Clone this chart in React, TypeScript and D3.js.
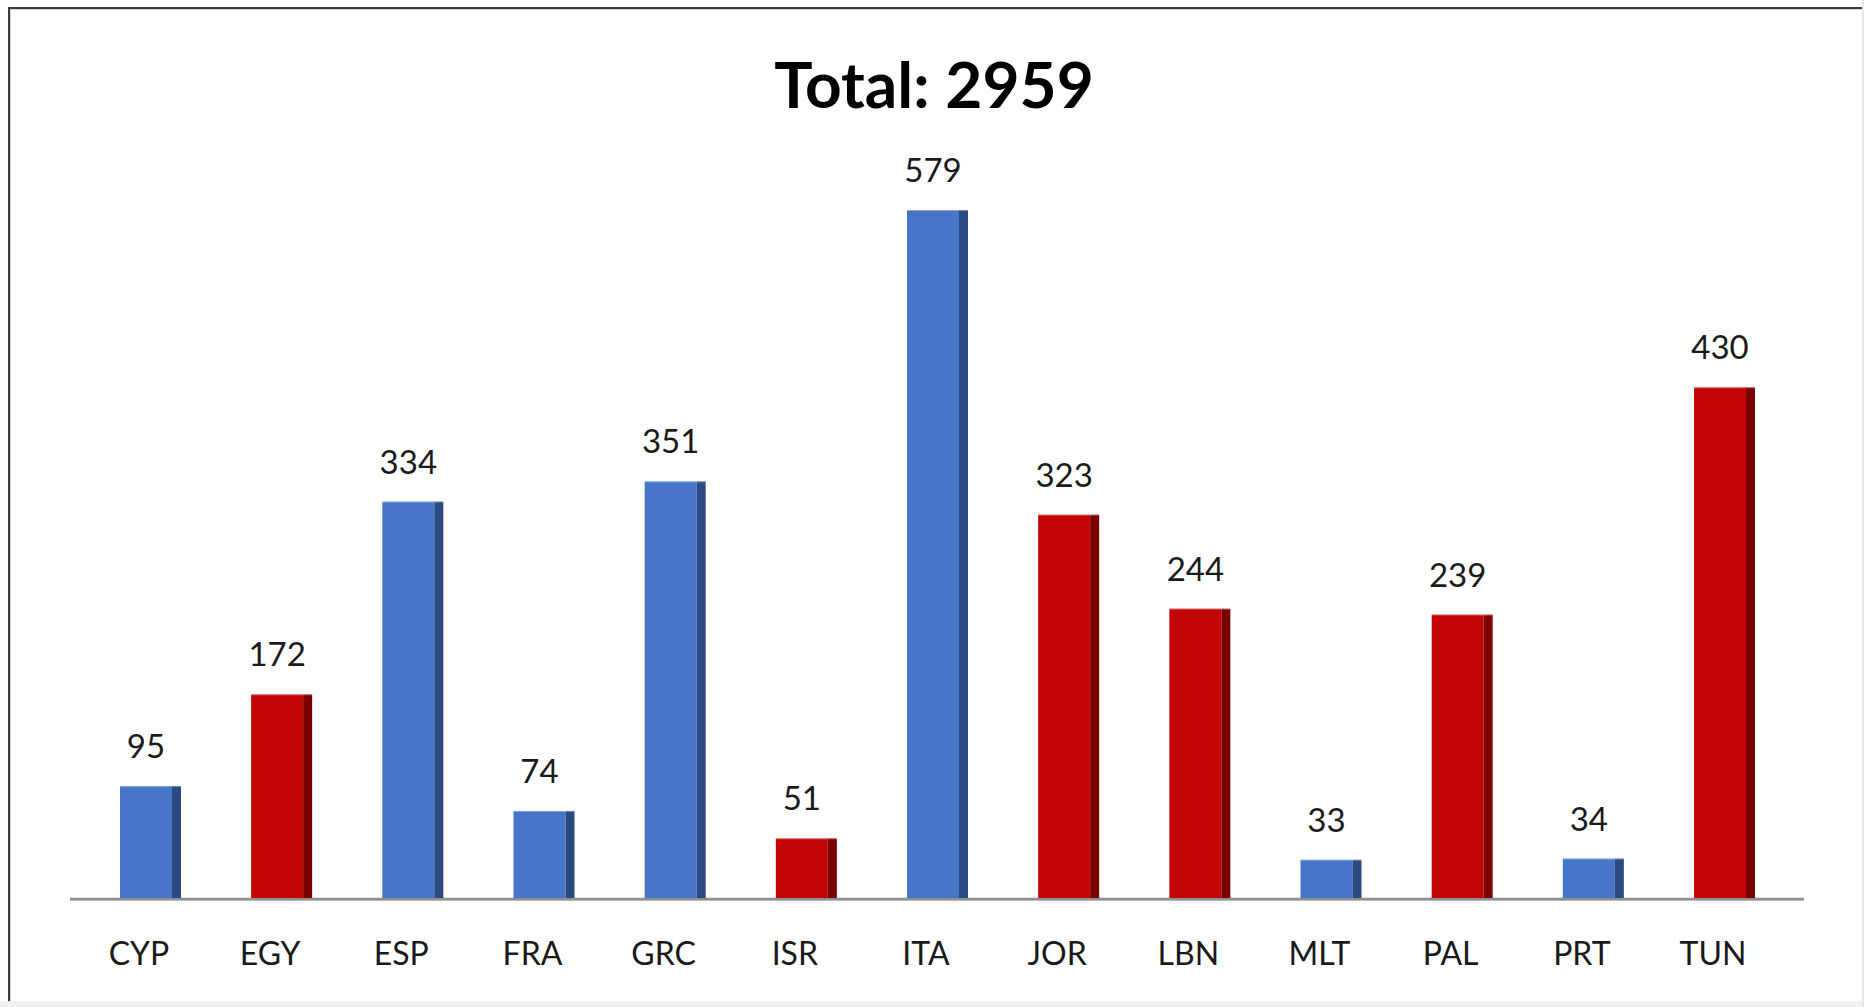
import React, { useEffect, useRef } from "react";
import * as d3 from "d3";

const countries = ["CYP", "EGY", "ESP", "FRA", "GRC", "ISR", "ITA", "JOR", "LBN", "MLT", "PAL", "PRT", "TUN"];
const counts = [95, 172, 334, 74, 351, 51, 579, 323, 244, 33, 239, 34, 430];
const groups = ["eu", "non", "eu", "eu", "eu", "non", "eu", "non", "non", "eu", "non", "eu", "non"];
const titleText = "Total: 2959";

const App = () => {
  const chartRef = useRef(null);

  useEffect(() => {
    const width = 1864;
    const height = 1007;
    const axisY = 899;

    d3.select(chartRef.current).select("svg").remove();

    const svg = d3
      .select(chartRef.current)
      .append("svg")
      .attr("width", width)
      .attr("height", height)
      .style("position", "absolute")
      .style("left", "0px")
      .style("top", "0px")
      .style("background", "white");

    const data = countries.map((c, i) => ({ name: c, value: counts[i], group: groups[i] }));

    const x = d3.scaleBand().domain(countries).range([73.4, 1778.6]);
    const y = d3.scaleLinear().domain([0, 579]).range([axisY, 210]);

    const front = { eu: "#4675CA", non: "#C30505" };
    const side = { eu: "#2B4A82", non: "#7A0000" };

    // frame (only top and left edges fall inside the page)
    svg
      .append("rect")
      .attr("x", 10)
      .attr("y", 9)
      .attr("width", width + 20)
      .attr("height", height + 20)
      .attr("fill", "none")
      .attr("stroke", "#d0d0d0")
      .attr("stroke-width", 2);
    svg
      .append("rect")
      .attr("x", 9)
      .attr("y", 8)
      .attr("width", width + 20)
      .attr("height", height + 20)
      .attr("fill", "none")
      .attr("stroke", "#3c3c3c")
      .attr("stroke-width", 2);

    // faint band at bottom and right edges
    svg
      .append("rect")
      .attr("x", 0)
      .attr("y", 1001)
      .attr("width", width)
      .attr("height", 6)
      .attr("fill", "#f2f2f2");
    svg
      .append("rect")
      .attr("x", width - 2)
      .attr("y", 0)
      .attr("width", 2)
      .attr("height", height)
      .attr("fill", "#e6e6e6");

    // title
    svg
      .append("text")
      .attr("x", 934)
      .attr("y", 108)
      .attr("text-anchor", "middle")
      .style("font-family", "Lato, sans-serif")
      .style("font-weight", "bold")
      .style("font-size", "64px")
      .attr("fill", "#000")
      .text(titleText);

    // floor line
    svg
      .append("line")
      .attr("x1", 70)
      .attr("x2", 1804)
      .attr("y1", axisY + 1)
      .attr("y2", axisY + 1)
      .attr("stroke", "#c8c8c8")
      .attr("stroke-width", 2);
    svg
      .append("line")
      .attr("x1", 70)
      .attr("x2", 1804)
      .attr("y1", axisY)
      .attr("y2", axisY)
      .attr("stroke", "#8f8f8f")
      .attr("stroke-width", 2.5);

    const bars = svg.selectAll(".bar").data(data).enter().append("g").attr("class", "bar");
    const fx = (d) => x(d.name) + x.bandwidth() / 2 - 19;

    // front face
    bars
      .append("rect")
      .attr("x", (d) => fx(d))
      .attr("y", (d) => y(d.value))
      .attr("width", 52)
      .attr("height", (d) => axisY - 1 - y(d.value))
      .attr("fill", (d) => front[d.group]);

    // side face
    bars
      .append("rect")
      .attr("x", (d) => fx(d) + 52)
      .attr("y", (d) => y(d.value))
      .attr("width", 9)
      .attr("height", (d) => axisY - 1 - y(d.value))
      .attr("fill", (d) => side[d.group]);

    // thin top highlight
    bars
      .append("line")
      .attr("x1", (d) => fx(d))
      .attr("x2", (d) => fx(d) + 61)
      .attr("y1", (d) => y(d.value) + 0.5)
      .attr("y2", (d) => y(d.value) + 0.5)
      .attr("stroke", "#ffffff")
      .attr("stroke-opacity", 0.35)
      .attr("stroke-width", 1);

    // value labels
    bars
      .append("text")
      .attr("x", (d) => fx(d) + 26)
      .attr("y", (d) => y(d.value) - 28)
      .attr("text-anchor", "middle")
      .style("font-family", "Lato, sans-serif")
      .style("font-size", "33px")
      .attr("fill", "#1a1a1a")
      .text((d) => d.value);

    // category labels
    svg
      .selectAll(".cat")
      .data(countries)
      .enter()
      .append("text")
      .attr("class", "cat")
      .attr("x", (d) => x(d) + x.bandwidth() / 2)
      .attr("y", 965)
      .attr("text-anchor", "middle")
      .style("font-family", "Lato, sans-serif")
      .style("font-size", "32px")
      .attr("fill", "#1a1a1a")
      .text((d) => d);
  }, []);

  return <div ref={chartRef}></div>;
};

export default App;
